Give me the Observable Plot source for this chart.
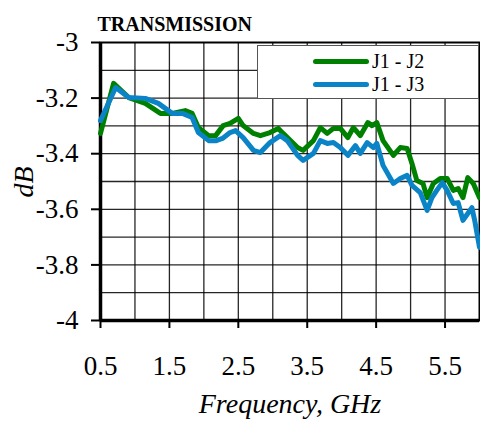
<!DOCTYPE html>
<html><head><meta charset="utf-8">
<script src="https://cdn.jsdelivr.net/npm/d3@7"></script>
<script src="https://cdn.jsdelivr.net/npm/@observablehq/plot@0.6"></script>
<style>
body{margin:0;background:#fff;}
#wrap{position:relative;width:480px;height:423px;font-family:"Liberation Serif","Times New Roman",serif;}
#legend{position:absolute;left:257px;top:45px;width:222px;height:54px;border:1px solid #555;background:#fff;box-sizing:border-box;}
.row{position:absolute;left:0;height:24px;width:100%;}
.sw{position:absolute;left:55px;width:56px;height:5px;top:10px;border-radius:3px;}
.lab{position:absolute;left:114px;top:0;font-size:20px;line-height:24px;color:#000;}
</style></head>
<body><div id="wrap"><div id="chart"></div>
<div id="legend"></div></div>
<script>
const title = "TRANSMISSION";
const xLabel = "Frequency, GHz";
const yLabel = "dB";
const seriesNames = ["J1 - J2", "J1 - J3"];
const seriesColors = ["#008000", "#0a84c6"];
const xTicks = [0.5, 1.5, 2.5, 3.5, 4.5, 5.5];
const yTicks = [-4, -3.8, -3.6, -3.4, -3.2, -3];
const xGrid = [1, 1.5, 2, 2.5, 3, 3.5, 4, 4.5, 5, 5.5];
const yGrid = [-3.9, -3.8, -3.7, -3.6, -3.5, -3.4, -3.3, -3.2, -3.1];

const j12Freq = [0.5,0.69,0.91,1.15,1.37,1.54,1.73,1.83,1.92,2.07,2.17,2.28,2.38,2.5,2.57,2.72,2.82,2.96,3.08,3.15,3.36,3.44,3.59,3.69,3.79,3.88,3.98,4.09,4.17,4.27,4.38,4.44,4.51,4.6,4.75,4.85,4.95,5.02,5.09,5.18,5.24,5.33,5.43,5.53,5.62,5.69,5.76,5.83,5.91,6.0];
const j12dB = [-3.327,-3.147,-3.198,-3.219,-3.255,-3.255,-3.245,-3.255,-3.306,-3.335,-3.335,-3.299,-3.291,-3.273,-3.299,-3.327,-3.335,-3.324,-3.309,-3.327,-3.378,-3.388,-3.353,-3.306,-3.327,-3.309,-3.309,-3.342,-3.306,-3.335,-3.288,-3.299,-3.288,-3.353,-3.406,-3.378,-3.381,-3.435,-3.496,-3.507,-3.558,-3.507,-3.489,-3.489,-3.532,-3.525,-3.558,-3.486,-3.507,-3.558];
const j13Freq = [0.5,0.72,0.91,1.15,1.34,1.54,1.69,1.83,1.92,2.07,2.18,2.27,2.38,2.46,2.57,2.72,2.82,2.96,3.11,3.21,3.36,3.44,3.59,3.69,3.79,3.88,3.98,4.09,4.2,4.27,4.37,4.46,4.51,4.6,4.75,4.85,4.95,5.02,5.14,5.24,5.31,5.38,5.46,5.53,5.62,5.69,5.76,5.83,5.89,5.93,6.0];
const j13dB = [-3.281,-3.162,-3.198,-3.201,-3.219,-3.255,-3.255,-3.27,-3.324,-3.353,-3.353,-3.345,-3.324,-3.317,-3.342,-3.388,-3.396,-3.36,-3.335,-3.353,-3.406,-3.424,-3.399,-3.353,-3.363,-3.36,-3.378,-3.406,-3.371,-3.399,-3.36,-3.378,-3.363,-3.442,-3.507,-3.489,-3.478,-3.514,-3.54,-3.604,-3.558,-3.532,-3.504,-3.532,-3.579,-3.576,-3.64,-3.615,-3.594,-3.64,-3.737];

const j12 = j12Freq.map((f, i) => ({f, v: j12dB[i]}));
const j13 = j13Freq.map((f, i) => ({f, v: j13dB[i]}));
const font = "Liberation Serif, Times New Roman, serif";

const chart = Plot.plot({
  width: 480, height: 423,
  marginTop: 42, marginBottom: 103, marginLeft: 100, marginRight: 1,
  style: {fontFamily: font, background: "white", color: "black"},
  x: {domain: [0.5, 6]},
  y: {domain: [-4, -3]},
  marks: [
    Plot.ruleX(xGrid, {stroke: "#000", strokeWidth: 1.3, strokeOpacity: 0.85}),
    Plot.ruleY(yGrid, {stroke: "#000", strokeWidth: 1.3, strokeOpacity: 0.85}),
    Plot.frame({stroke: "#000", strokeWidth: 2}),
    Plot.ruleX([0.5], {stroke: "#000", strokeWidth: 3.5}),
    Plot.ruleY([-4], {stroke: "#000", strokeWidth: 3.5}),
    Plot.axisX(xTicks, {tickSize: 8, tickPadding: 27, fontSize: 27, strokeWidth: 2, tickFormat: d => d.toFixed(1), label: null}),
    Plot.axisY(yTicks, {tickSize: 9, tickPadding: 13, fontSize: 27, strokeWidth: 2, tickFormat: d => String(d), label: null}),
    Plot.line(j12, {x: "f", y: "v", stroke: seriesColors[0], strokeWidth: 5, strokeLinejoin: "round", strokeLinecap: "round"}),
    Plot.line(j13, {x: "f", y: "v", stroke: seriesColors[1], strokeWidth: 5, strokeLinejoin: "round", strokeLinecap: "round"}),
    Plot.text([xLabel], {frameAnchor: "bottom", dy: 92, fontSize: 28, fontStyle: "italic", fontFamily: font}),
    Plot.text([yLabel], {frameAnchor: "left", dx: -76, dy: 16, rotate: -90, fontSize: 28, fontStyle: "italic", fontFamily: font}),
    Plot.text([title], {frameAnchor: "top-left", dx: -3, dy: -26, textAnchor: "start", fontSize: 20, fontWeight: "bold", fontFamily: font})
  ]
});
document.getElementById("chart").appendChild(chart);

const legend = document.getElementById("legend");
seriesNames.forEach((name, i) => {
  const row = document.createElement("div");
  row.className = "row";
  row.style.top = (3 + i * 23) + "px";
  row.innerHTML = `<div class="sw" style="background:${seriesColors[i]}"></div><div class="lab">${name}</div>`;
  legend.appendChild(row);
});
</script></body></html>
